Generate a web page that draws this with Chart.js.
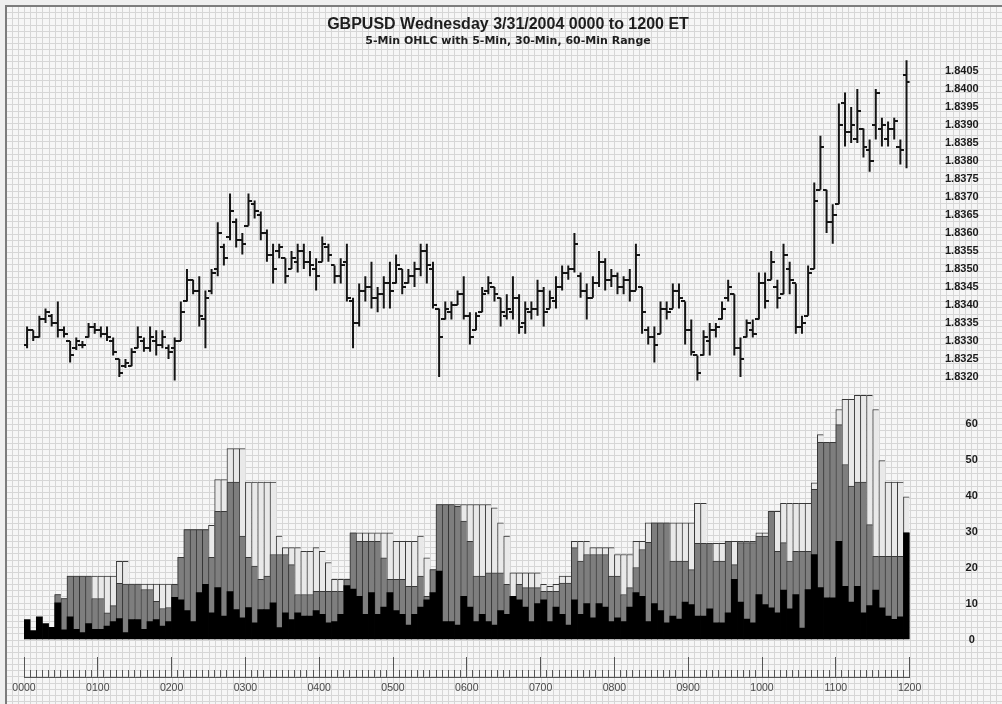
<!DOCTYPE html>
<html>
<head>
<meta charset="utf-8">
<title>GBPUSD 3/31/2004</title>
<script src="https://cdn.jsdelivr.net/npm/chart.js@4.4.1/dist/chart.umd.min.js"></script>
<style>
    html, body { margin: 0; padding: 0; background: #fff; }
    #wrap { width: 1002px; height: 704px; }
</style>
</head>
<body>
<div id="wrap"><canvas id="chart" width="1002" height="704"></canvas></div>
<script>
"use strict";

// x axis labels (one per hour, 12 bars of 5 min per hour)
const hourLabels = ["0000", "0100", "0200", "0300", "0400", "0500", "0600",
    "0700", "0800", "0900", "1000", "1100", "1200"];
// price axis ticks
const priceTicks = [1.8320, 1.8325, 1.8330, 1.8335, 1.8340, 1.8345, 1.8350, 1.8355,
    1.8360, 1.8365, 1.8370, 1.8375, 1.8380, 1.8385, 1.8390, 1.8395, 1.8400, 1.8405];
// range axis ticks (pips)
const rangeTicks = [0, 10, 20, 30, 40, 50, 60];

// 5-min OHLC
const highP = [
    1.8334, 1.8333, 1.8337, 1.8339, 1.83375, 1.8341, 1.8334, 1.8330, 1.8331, 1.8330,
    1.8335, 1.8335, 1.8334, 1.8334, 1.8331, 1.8325, 1.8325, 1.8328, 1.8334, 1.8331,
    1.8334, 1.8333, 1.8333, 1.8329, 1.8331, 1.8341, 1.8350, 1.8347, 1.8348, 1.8344,
    1.8350, 1.8363, 1.8357, 1.8371, 1.8364, 1.8360, 1.8371, 1.8369, 1.8366, 1.8361,
    1.8357, 1.8357, 1.8353, 1.8355, 1.8357, 1.8357, 1.8355, 1.8353, 1.8359, 1.8357,
    1.8351, 1.8353, 1.8357, 1.8342, 1.8346, 1.8348, 1.8352, 1.8345, 1.8348, 1.8352,
    1.8354, 1.8350, 1.8350, 1.8352, 1.8357, 1.8357, 1.8352, 1.8339, 1.8341, 1.8341,
    1.8344, 1.8348, 1.8338, 1.8338, 1.8345, 1.8348, 1.8345, 1.8342, 1.8343, 1.8348,
    1.8343, 1.8341, 1.8341, 1.8347, 1.8345, 1.8344, 1.8348, 1.8351, 1.8351, 1.8360,
    1.8349, 1.8346, 1.8348, 1.8355, 1.8353, 1.8350, 1.8349, 1.8348, 1.8350, 1.8357,
    1.8345, 1.8334, 1.8334, 1.8341, 1.8341, 1.8346, 1.8346, 1.8341, 1.8336, 1.8326,
    1.8333, 1.8335, 1.8335, 1.8341, 1.8347, 1.8343, 1.8331, 1.8336, 1.8336, 1.8349,
    1.8349, 1.8355, 1.8347, 1.8357, 1.8352, 1.8346, 1.8337, 1.8351, 1.8374, 1.8387,
    1.8372, 1.8368, 1.8396, 1.8399, 1.8395, 1.8400, 1.8389, 1.8386, 1.8400, 1.8392,
    1.8391, 1.8392, 1.8386, 1.8408
];
const lowP = [
    1.8328, 1.8330, 1.8331, 1.8335, 1.8334, 1.8331, 1.8331, 1.8324, 1.83275, 1.8328,
    1.8331, 1.8332, 1.8331, 1.8330, 1.8326, 1.8320, 1.83225, 1.8323, 1.8328, 1.8327,
    1.8327, 1.8326, 1.8328, 1.8325, 1.8319, 1.8330, 1.8341, 1.8343, 1.8334, 1.8328,
    1.8343, 1.8348, 1.8351, 1.8358, 1.8356, 1.8354, 1.8362, 1.8364, 1.8358, 1.8352,
    1.8346, 1.8353, 1.8346, 1.8350, 1.8349, 1.8350, 1.8348, 1.8344, 1.8352, 1.8352,
    1.8346, 1.8346, 1.8341, 1.8328, 1.8334, 1.8341, 1.8339, 1.8338, 1.8339, 1.8339,
    1.8346, 1.8343, 1.8346, 1.8345, 1.8348, 1.8346, 1.8339, 1.8320, 1.8336, 1.8336,
    1.8340, 1.8336, 1.8329, 1.8333, 1.8338, 1.8343, 1.8341, 1.8334, 1.8336, 1.8336,
    1.8332, 1.8332, 1.8336, 1.8337, 1.8334, 1.8339, 1.8339, 1.8344, 1.8347, 1.8349,
    1.8342, 1.8336, 1.8342, 1.8345, 1.8344, 1.8345, 1.8343, 1.8343, 1.8341, 1.8344,
    1.8332, 1.8329, 1.8324, 1.8332, 1.8336, 1.8339, 1.8339, 1.8329, 1.8326, 1.8319,
    1.8326, 1.8326, 1.8331, 1.8336, 1.8341, 1.8326, 1.8320, 1.8331, 1.8331, 1.8336,
    1.8339, 1.8347, 1.8339, 1.8343, 1.8343, 1.8332, 1.8332, 1.8337, 1.8350, 1.8372,
    1.8360, 1.8357, 1.8368, 1.8384, 1.8385, 1.8385, 1.8381, 1.8377, 1.8386, 1.8384,
    1.8384, 1.8386, 1.8379, 1.8378
];
const openP = [
    1.8329, 1.8333, 1.8331, 1.8336, 1.8337, 1.8335, 1.8333, 1.8330, 1.8328, 1.8329,
    1.8331, 1.8334, 1.8333, 1.8332, 1.8330, 1.8325, 1.8323, 1.8323, 1.8328, 1.8330,
    1.8328, 1.8330, 1.8329, 1.8328, 1.8328, 1.8330, 1.8341, 1.8347, 1.8344, 1.8336,
    1.8344, 1.8350, 1.8356, 1.8359, 1.8363, 1.8358, 1.8362, 1.8368, 1.8365, 1.8360,
    1.8354, 1.8355, 1.8353, 1.8350, 1.8352, 1.8355, 1.8352, 1.8350, 1.8352, 1.8356,
    1.8351, 1.8348, 1.8352, 1.8341, 1.8335, 1.8344, 1.8345, 1.8342, 1.8343, 1.8346,
    1.8346, 1.8350, 1.8346, 1.8348, 1.8350, 1.8355, 1.8350, 1.8339, 1.8336, 1.8338,
    1.8340, 1.8343, 1.8337, 1.8333, 1.8338, 1.8344, 1.8345, 1.8342, 1.8337, 1.8338,
    1.8342, 1.8335, 1.8338, 1.8339, 1.8344, 1.8339, 1.8341, 1.8345, 1.8349, 1.8350,
    1.8348, 1.8344, 1.8342, 1.8346, 1.8352, 1.8347, 1.8348, 1.8345, 1.8347, 1.8344,
    1.8345, 1.8333, 1.8331, 1.8332, 1.8339, 1.8339, 1.8344, 1.8341, 1.8333, 1.8326,
    1.8326, 1.8330, 1.8333, 1.8336, 1.8342, 1.8343, 1.8328, 1.8331, 1.8333, 1.8336,
    1.8346, 1.8347, 1.8345, 1.8343, 1.8350, 1.8346, 1.8334, 1.8337, 1.8350, 1.8372,
    1.8372, 1.8363, 1.8368, 1.8396, 1.8388, 1.8386, 1.8389, 1.8383, 1.8390, 1.8389,
    1.8386, 1.8389, 1.8384, 1.8404
];
const closeP = [
    1.8333, 1.8331, 1.8336, 1.8338, 1.8335, 1.8333, 1.8332, 1.8326, 1.8330, 1.8329,
    1.8334, 1.8333, 1.8332, 1.8331, 1.8327, 1.8321, 1.8324, 1.8327, 1.8331, 1.8328,
    1.8331, 1.8329, 1.8331, 1.8327, 1.8330, 1.8338, 1.8347, 1.8344, 1.8337, 1.8342,
    1.8349, 1.8360, 1.8353, 1.8366, 1.8358, 1.8357, 1.8369, 1.8366, 1.8360, 1.8354,
    1.8350, 1.8356, 1.8348, 1.8353, 1.8355, 1.8352, 1.8351, 1.8348, 1.8357, 1.8354,
    1.8348, 1.8351, 1.8342, 1.8335, 1.8344, 1.8345, 1.8342, 1.8343, 1.8346, 1.8344,
    1.8351, 1.8345, 1.8348, 1.8350, 1.8355, 1.8351, 1.8340, 1.8331, 1.8339, 1.8340,
    1.8343, 1.8337, 1.8331, 1.8337, 1.8343, 1.8346, 1.8343, 1.8338, 1.8339, 1.8342,
    1.8334, 1.8339, 1.8339, 1.8344, 1.8338, 1.8342, 1.8345, 1.8349, 1.8350, 1.8357,
    1.8344, 1.8342, 1.8346, 1.8352, 1.8347, 1.8348, 1.8345, 1.8347, 1.8344, 1.8354,
    1.8338, 1.8331, 1.8329, 1.8339, 1.8338, 1.8344, 1.8342, 1.8333, 1.8327, 1.8321,
    1.8331, 1.8333, 1.8334, 1.8339, 1.8345, 1.8328, 1.8325, 1.8335, 1.8332, 1.8346,
    1.8341, 1.8352, 1.8342, 1.8354, 1.8347, 1.8334, 1.8335, 1.8349, 1.8369, 1.8384,
    1.8363, 1.8365, 1.8390, 1.8388, 1.8390, 1.8394, 1.8384, 1.8380, 1.8399, 1.8390,
    1.8389, 1.8391, 1.8383, 1.8402
];

// range (pips): 5-min, 30-min, 60-min
const range5 = [
    5.5, 2.5, 6.3, 4.4, 3.4, 10.2, 2.7, 6.3, 2.8, 1.9,
    4.4, 2.8, 2.8, 3.7, 5, 5.8, 1.9, 5.5, 5.5, 2.8,
    5, 5.5, 3.7, 5, 11.7, 11, 8, 5, 13, 15.3,
    7.4, 14.4, 6.5, 13.3, 8.3, 6, 8.9, 4.6, 8.3, 8.3,
    10.2, 3.3, 7.4, 5.5, 7.4, 6.5, 6.5, 8, 7, 4.6,
    5, 7, 15, 14, 12, 7, 13, 7, 9, 13,
    8, 7, 4, 7, 9, 11, 13, 19, 5, 5,
    4, 12, 9, 5, 7, 5, 4, 8, 7, 12,
    11, 9, 5, 10, 11, 5, 9, 7, 4, 11,
    7, 10, 6, 10, 9, 5, 6, 5, 9, 13,
    12, 5, 10, 8, 4.6, 6.5, 5.7, 10.4, 9.7, 6.5,
    6.5, 8.5, 4.6, 4.6, 7.4, 16.7, 10.4, 5.7, 4.6, 12.5,
    9.7, 8.8, 7.4, 13.7, 8.5, 12.5, 3.2, 13.9, 23.6, 14.4,
    11.6, 11.6, 27.3, 14.8, 10.4, 14.8, 7.4, 9.4, 13.7, 8.8,
    6.5, 5.6, 6.3, 29.6
];
const range30 = [
    null, null, null, null, null, 12.5, 11.4, 17.6, 17.6, 17.6,
    17.6, 11.4, 11.4, 7.4, 9.4, 15.6, 15.4, 15.4, 15.4, 13.9,
    13.9, 10.6, 8.6, 8.9, 15.3, 22.8, 30.5, 30.5, 30.5, 30.5,
    22.8, 35.6, 35.6, 43.7, 43.7, 28.7, 22.8, 20.4, 16.7, 17.6,
    23.6, 23.6, 23.6, 20.8, 12.5, 12.5, 12.5, 13.4, 13.4, 13.4,
    13.4, 13.4, 16.7, 29.6, 27.3, 27.3, 27.3, 27.3, 22.7, 16.7,
    16.7, 16.7, 14.8, 14.8, 17.6, 12, 19.4, 37.5, 37.5, 37.5,
    37, 32.9, 27.3, 17.6, 17.6, 18.5, 18.5, 18.5, 15.3, 12,
    15.3, 14.4, 14.4, 14.4, 13.4, 13.4, 13.4, 15.7, 15.7, 25.5,
    21.8, 23.6, 23.6, 23.6, 23.6, 17.6, 17.6, 12.5, 14.4, 20,
    25, 27, 32.4, 32.4, 32.4, 21.8, 21.8, 21.8, 19.4, 26.7,
    26.7, 26.7, 21.8, 21.8, 27.3, 20.8, 26.9, 26.9, 26.9, 28.7,
    28.7, 35.6, 24.5, 26.9, 21.8, 24.5, 24.5, 24.5, 41.7, 54.8,
    54.8, 54.8, 59.7, 48.6, 42.6, 43.7, 43.7, 31.9, 23.1, 23.1,
    23.1, 23.1, 23.1, 29.6
];
const range60 = [
    null, null, null, null, null, 12.5, 11.4, 17.6, 17.6, 17.6,
    17.6, 17.6, 17.6, 17.6, 17.6, 21.7, 21.7, 15.4, 15.4, 15.4,
    15.4, 15.4, 15.4, 15.4, 15.4, 22.8, 30.5, 30.5, 30.5, 30.5,
    31.7, 44.4, 44.4, 53, 53, 53, 43.7, 43.7, 43.7, 43.7,
    43.7, 28.7, 25.5, 25.5, 25.5, 24.5, 24.5, 25.5, 24.5, 21.4,
    16.7, 16.7, 16.7, 29.6, 29.6, 29.6, 29.6, 29.6, 29.6, 29.6,
    27.3, 27.3, 27.3, 27.3, 28.7, 22.7, 19.4, 37.5, 37.5, 37.5,
    37.5, 37.5, 37.5, 37.5, 37.5, 37.5, 36.6, 32.4, 28.7, 18.5,
    18.5, 18.5, 18.5, 18.5, 15.3, 14.8, 15.3, 17.6, 17.6, 27.3,
    27.3, 27.3, 25.5, 25.5, 25.5, 25.5, 23.6, 23.6, 23.6, 27.3,
    27.3, 32.4, 32.4, 32.4, 32.4, 32.4, 32.4, 32.4, 32.4, 37.8,
    37.8, 26.7, 26.7, 26.7, 27.3, 27.3, 27.3, 27.3, 27.3, 29.6,
    29.6, 35.6, 35.6, 37.8, 37.8, 37.8, 37.8, 37.8, 43.5, 56.9,
    54.8, 54.8, 63.9, 66.7, 66.7, 67.8, 67.8, 67.8, 63.9, 49.7,
    43.7, 43.7, 43.7, 39.6
];

const FONT = "'Liberation Sans', Arial, sans-serif";

// bar i sits in the middle of its 5-min slot
const slot = i => i + 0.5;
const toXY = arr => arr.map((v, i) => ({ x: slot(i), y: v }));

// open (left) / close (right) tick images
function tickImage(side) {
    const c = document.createElement("canvas");
    c.width = 8;
    c.height = 2;
    const g = c.getContext("2d");
    g.fillStyle = "#151515";
    g.fillRect(side === "left" ? 0 : 4, 0, 4, 2);
    return c;
}

// graph paper background + frame
const paperPlugin = {
    id: "paper",
    beforeDraw(chart) {
        const ctx = chart.ctx;
        const W = chart.width, H = chart.height;
        const step = 6.15;
        ctx.save();
        ctx.fillStyle = "#f6f6f6";
        ctx.fillRect(0, 0, W, H);
        ctx.strokeStyle = "#d6d6d6";
        ctx.lineWidth = 1;
        ctx.beginPath();
        for (let x = 24 - step * 3; x < W; x += step) {
            const px = Math.round(x) + 0.5;
            ctx.moveTo(px, 7);
            ctx.lineTo(px, H);
        }
        for (let y = 639.5; y > 7; y -= step) {
            const py = Math.round(y) + 0.5;
            ctx.moveTo(7, py);
            ctx.lineTo(W, py);
        }
        for (let y = 639.5 + step; y < H; y += step) {
            const py = Math.round(y) + 0.5;
            ctx.moveTo(7, py);
            ctx.lineTo(W, py);
        }
        ctx.stroke();
        // outside of frame
        ctx.fillStyle = "#efefef";
        ctx.fillRect(0, 0, W, 5);
        ctx.fillRect(0, 0, 5, H);
        // frame
        ctx.fillStyle = "#7c7c7c";
        ctx.fillRect(5, 5, W - 5, 2);
        ctx.fillRect(5, 5, 2, H - 5);
        ctx.restore();
    }
};

const ctx = document.getElementById("chart");

new Chart(ctx, {
    type: "bar",
    data: {
        datasets: [
            {
                label: "5-Min Range",
                data: toXY(range5),
                xAxisID: "x",
                yAxisID: "yR",
                backgroundColor: "#000000",
                borderWidth: 0,
                grouped: false,
                barPercentage: 1,
                categoryPercentage: 1,
                order: 0
            },
            {
                label: "30-Min Range",
                data: toXY(range30),
                xAxisID: "x",
                yAxisID: "yR",
                backgroundColor: "#7e7e7e",
                borderColor: "#383838",
                borderWidth: { top: 1, left: 1, right: 0, bottom: 0 },
                borderSkipped: false,
                grouped: false,
                barPercentage: 1,
                categoryPercentage: 1,
                order: 1
            },
            {
                label: "60-Min Range",
                data: toXY(range60),
                xAxisID: "x",
                yAxisID: "yR",
                backgroundColor: "#e9e9e9",
                borderColor: "#383838",
                borderWidth: { top: 1, left: 1, right: 0, bottom: 0 },
                borderSkipped: false,
                grouped: false,
                barPercentage: 1,
                categoryPercentage: 1,
                order: 2
            },
            {
                label: "High-Low",
                data: highP.map((h, i) => ({ x: slot(i), y: [lowP[i], h] })),
                xAxisID: "x",
                yAxisID: "yP",
                backgroundColor: "#151515",
                borderWidth: 0,
                grouped: false,
                maxBarThickness: 2,
                order: 3
            },
            {
                type: "line",
                label: "Open",
                data: toXY(openP),
                xAxisID: "x",
                yAxisID: "yP",
                showLine: false,
                pointStyle: tickImage("left"),
                pointRadius: 3,
                order: 4
            },
            {
                type: "line",
                label: "Close",
                data: toXY(closeP),
                xAxisID: "x",
                yAxisID: "yP",
                showLine: false,
                pointStyle: tickImage("right"),
                pointRadius: 3,
                order: 4
            }
        ]
    },
    options: {
        responsive: false,
        animation: false,
        events: [],
        layout: {
            padding: { left: 24, right: 10, top: 0, bottom: 0 }
        },
        plugins: {
            legend: { display: false },
            tooltip: { enabled: false },
            title: {
                display: true,
                text: "GBPUSD Wednesday 3/31/2004 0000 to 1200 ET",
                color: "#1e1e1e",
                font: { family: FONT, size: 16, weight: "bold" },
                padding: { top: 15.4, bottom: 0 }
            },
            subtitle: {
                display: true,
                text: "5-Min OHLC with 5-Min, 30-Min, 60-Min Range",
                color: "#1e1e1e",
                font: { family: "'DejaVu Sans', sans-serif", size: 11, weight: "bold" },
                padding: { top: 0, bottom: 2.2 }
            }
        },
        scales: {
            // 5-min tick marks
            x: {
                type: "linear",
                position: "bottom",
                weight: 0,
                offset: false,
                min: 0,
                max: 144,
                afterBuildTicks: s => {
                    s.ticks = Array.from({ length: 145 }, (_, k) => ({ value: k }));
                },
                ticks: { display: false, autoSkip: false },
                border: { display: false },
                grid: {
                    offset: false,
                    drawOnChartArea: false,
                    drawTicks: true,
                    tickLength: 20,
                    tickColor: "#555555",
                    tickWidth: 1,
                    tickBorderDash: c => (c.tick && c.tick.value % 12 === 0) ? [] : [0, 13, 7, 100]
                }
            },
            // hour labels + base line
            xLbl: {
                type: "linear",
                position: "bottom",
                weight: 1,
                offset: false,
                min: 0,
                max: 144,
                afterBuildTicks: s => {
                    s.ticks = hourLabels.map((_, h) => ({ value: h * 12 }));
                },
                afterFit: s => { s.height = 27; },
                ticks: {
                    autoSkip: false,
                    maxRotation: 0,
                    padding: 5,
                    color: "#4a4a4a",
                    font: { family: FONT, size: 10.5 },
                    callback: (v, i) => hourLabels[i]
                },
                border: { display: true, color: "#555555", width: 1 },
                grid: { offset: false, drawOnChartArea: false, drawTicks: false }
            },
            // price
            yP: {
                type: "linear",
                position: "right",
                stack: "panes",
                stackWeight: 342,
                weight: 0,
                min: 1.83158333,
                max: 1.84108333,
                afterBuildTicks: s => {
                    s.ticks = priceTicks.map(v => ({ value: v }));
                },
                afterFit: s => { s.width = 82.4; },
                ticks: {
                    autoSkip: false,
                    padding: 2,
                    crossAlign: "near",
                    color: "#1a1a1a",
                    font: { family: FONT, size: 11, weight: "bold" },
                    callback: v => Number(v).toFixed(4)
                },
                border: { display: false },
                grid: {
                    display: true,
                    drawOnChartArea: false,
                    drawTicks: true,
                    tickLength: 33.4,
                    tickColor: "rgba(0,0,0,0)"
                }
            },
            // range
            yR: {
                type: "linear",
                position: "right",
                stack: "panes",
                stackWeight: 265,
                weight: 1,
                min: -4.861,
                max: 68.75,
                afterBuildTicks: s => {
                    s.ticks = rangeTicks.map(v => ({ value: v }));
                },
                afterFit: s => { s.width = 82.4; },
                ticks: {
                    autoSkip: false,
                    padding: 2,
                    crossAlign: "center",
                    color: "#1a1a1a",
                    font: { family: FONT, size: 11, weight: "bold" },
                    callback: v => String(v)
                },
                border: { display: false },
                grid: {
                    display: true,
                    drawOnChartArea: false,
                    drawTicks: true,
                    tickLength: 54,
                    tickColor: "rgba(0,0,0,0)"
                }
            }
        }
    },
    plugins: [paperPlugin]
});
</script>
</body>
</html>
